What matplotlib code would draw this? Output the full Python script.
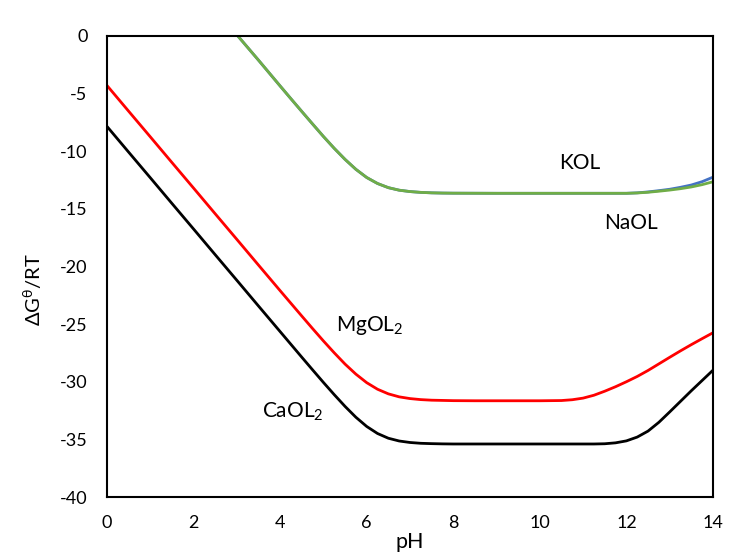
import matplotlib
matplotlib.use("Agg")
import matplotlib.pyplot as plt

# --- data ---
ph = [0, 0.5, 1, 1.5, 2, 2.5, 3, 3.5, 4, 4.5,
      4.75, 5, 5.25, 5.5, 5.75, 6, 6.25, 6.5, 6.75, 7, 7.25, 7.5, 7.75, 8,
      8.5, 9, 9.5, 10, 10.5,
      10.75, 11, 11.25, 11.5, 11.75, 12, 12.25, 12.5, 12.75, 13, 13.25, 13.5,
      13.75, 14]
mgol2 = [-4.3, -6.53, -8.75, -10.98, -13.2, -15.43, -17.65, -19.88, -22.1, -24.3,
         -25.39, -26.46, -27.49, -28.47, -29.34, -30.08, -30.65, -31.05, -31.31,
         -31.46, -31.55, -31.6, -31.62, -31.64,
         -31.65, -31.65, -31.65, -31.65, -31.63,
         -31.56, -31.42, -31.17, -30.82, -30.43, -30.0, -29.54, -29.02, -28.45,
         -27.88, -27.32, -26.78, -26.26, -25.75]
caol2 = [-7.85, -10.08, -12.3, -14.53, -16.75, -18.98, -21.2, -23.43, -25.65, -27.87,
         -28.97, -30.06, -31.12, -32.14, -33.08, -33.88, -34.49, -34.9, -35.14,
         -35.27, -35.34, -35.37, -35.39, -35.4,
         -35.4, -35.4, -35.4, -35.4, -35.4,
         -35.4, -35.4, -35.4, -35.38, -35.3, -35.13, -34.8, -34.28, -33.52,
         -32.62, -31.7, -30.78, -29.89, -29.0]

ph_na = [3, 3.5, 4, 4.25, 4.5, 4.75, 5, 5.25, 5.5, 5.75, 6, 6.25, 6.5, 6.75,
         7, 7.25, 7.5, 7.75, 8, 9, 10, 11, 12, 12.25, 12.5, 12.75, 13, 13.25,
         13.5, 13.75, 14]
naol = [0.1, -2.1, -4.34, -5.45, -6.55, -7.64, -8.72, -9.75, -10.71, -11.57,
        -12.28, -12.8, -13.16, -13.38, -13.5, -13.57, -13.61, -13.63, -13.64,
        -13.65, -13.65, -13.65, -13.65, -13.62, -13.56, -13.47, -13.37, -13.25,
        -13.1, -12.9, -12.65]
kol = [0.1, -2.1, -4.34, -5.45, -6.55, -7.64, -8.72, -9.75, -10.71, -11.57,
       -12.28, -12.8, -13.16, -13.38, -13.5, -13.57, -13.61, -13.63, -13.64,
       -13.65, -13.65, -13.65, -13.65, -13.61, -13.53, -13.42, -13.3, -13.13,
       -12.93, -12.64, -12.25]

xticks = [0, 2, 4, 6, 8, 10, 12, 14]
yticks = [0, -5, -10, -15, -20, -25, -30, -35, -40]

plt.rcParams['font.family'] = ['Lato', 'DejaVu Sans']
plt.rcParams['mathtext.default'] = 'regular'

fig = plt.figure(figsize=(7.29, 5.56), dpi=100)
ax = fig.add_axes([0.1468, 0.1061, 0.8312, 0.8292])

lw = 2.0
ax.plot(ph_na, kol, color='#4472C4', lw=lw, solid_capstyle='butt', solid_joinstyle='round')
ax.plot(ph_na, naol, color='#70AD47', lw=lw, solid_capstyle='butt', solid_joinstyle='round')
ax.plot(ph, mgol2, color='#FF0000', lw=lw, solid_capstyle='butt', solid_joinstyle='round')
ax.plot(ph, caol2, color='#000000', lw=lw, solid_capstyle='butt', solid_joinstyle='round')

ax.set_xlim(0, 14)
ax.set_ylim(-40, 0)
ax.set_xticks(xticks)
ax.set_yticks(yticks)
ax.set_xticklabels([str(t) for t in xticks])
ax.set_yticklabels([str(t) for t in yticks])
ax.tick_params(axis='both', length=0, labelsize=13, colors='#000000')
ax.tick_params(axis='y', pad=14)
ax.tick_params(axis='x', pad=13)
for s in ax.spines.values():
    s.set_color('black')
    s.set_linewidth(1.5)

ax.set_xlabel('pH', fontsize=15.5, labelpad=1)
ax.set_ylabel('\u0394G$^{\u03b8}$/RT', fontsize=14.5)
ax.yaxis.set_label_coords(-0.104, 0.45)

tk = dict(fontsize=15, ha='center', va='center')
ax.text(10.93, -11.05, 'KOL', **tk)
ax.text(12.11, -16.23, 'NaOL', **tk)
ax.text(6.08, -25.1, 'MgOL$_2$', **tk)
ax.text(4.3, -32.6, 'CaOL$_2$', **tk)

fig.savefig('out.png', dpi=100)
